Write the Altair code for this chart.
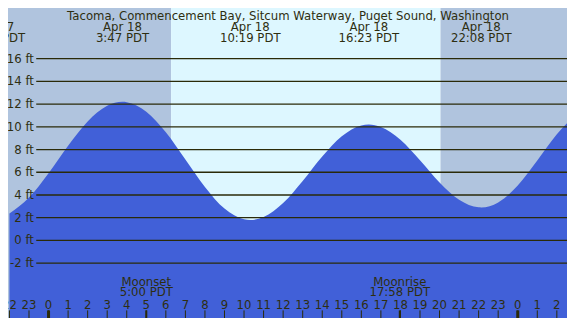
import altair as alt
import pandas as pd

# ---- data ----
tide_hours = [-2, -1, 0, 1, 2, 3, 3.78, 4, 5, 6, 7, 8, 9, 10, 10.32, 11, 12, 13, 14, 15, 16,
              16.38, 17, 18, 19, 20, 21, 22, 22.13, 23, 24, 25, 26, 27]
tide_feet = [2.37, 3.77, 5.92, 8.33, 10.47, 11.85, 12.2, 12.17, 11.33, 9.52, 7.12, 4.71, 2.80,
             1.86, 1.8, 2.06, 3.30, 5.24, 7.39, 9.17, 10.12, 10.2, 9.99, 8.86, 7.06, 5.10, 3.58,
             2.91, 2.9, 3.34, 4.84, 7.04, 9.34, 11.14]

extreme_hours = [-2.75, 3.783, 10.317, 16.383, 22.133]
extreme_dates = ["Apr 17", "Apr 18", "Apr 18", "Apr 18", "Apr 18"]
extreme_times = ["21:15 PDT", "3:47 PDT", "10:19 PDT", "16:23 PDT", "22:08 PDT"]

sunrise_hour = 6.27
sunset_hour = 20.05

moon_hours = [5.0, 17.967]
moon_events = ["Moonset", "Moonrise"]
moon_times = ["5:00 PDT", "17:58 PDT"]

ft_levels = [-2, 0, 2, 4, 6, 8, 10, 12, 14, 16]
ft_labels = [f"{v} ft" for v in ft_levels]

hour_ticks = list(range(-2, 28))
hour_labels = ["22", "23"] + [str(h) for h in range(24)] + ["0", "1", "2", "3"]
midnights = [0, 24]

title_text = "Tacoma, Commencement Bay, Sitcum Waterway, Puget Sound, Washington"

# ---- layout / style ----
X_MIN, X_MAX = -2.074, 26.52
Y_MIN, Y_MAX = -6.83, 20.46
W, H = 559, 310
FONT = "DejaVu Sans"
FS = 11.7
TXT = "#2e2e10"
LINE = "#2a2a08"
NIGHT = "#B0C4DE"
DAY = "#DDF7FF"
WATER = "#4160D8"


def px_x(h):
    return (h - X_MIN) / (X_MAX - X_MIN) * W


def px_y(f):
    return (Y_MAX - f) / (Y_MAX - Y_MIN) * H


xs = alt.Scale(domain=[X_MIN, X_MAX], nice=False, zero=False)
ys = alt.Scale(domain=[Y_MIN, Y_MAX], nice=False, zero=False)

bg_df = pd.DataFrame({
    "start": [X_MIN, sunrise_hour, sunset_hour],
    "end": [sunrise_hour, sunset_hour, X_MAX],
    "kind": ["night", "day", "night"],
})
tide_df = pd.DataFrame({"hour": tide_hours, "ft": tide_feet})
ext_df = pd.DataFrame({"hour": extreme_hours, "date": extreme_dates, "time": extreme_times})
moon_df = pd.DataFrame({"hour": moon_hours, "event": moon_events, "time": moon_times})
ft_df = pd.DataFrame({"ft": ft_levels, "label": ft_labels})
hr_df = pd.DataFrame({"hour": hour_ticks, "label": hour_labels})
mid_df = pd.DataFrame({"hour": midnights})
title_df = pd.DataFrame({"t": [title_text]})

X = lambda f: alt.X(f, scale=xs, axis=None)
Y = lambda f: alt.Y(f, scale=ys, axis=None, stack=None)

bg = alt.Chart(bg_df).mark_rect().encode(
    x=X("start:Q"),
    x2="end:Q",
    y=alt.value(0),
    y2=alt.value(H),
    color=alt.Color("kind:N", scale=alt.Scale(domain=["night", "day"], range=[NIGHT, DAY]), legend=None),
)

area = alt.Chart(tide_df).mark_area(interpolate="monotone", color=WATER).encode(
    x=X("hour:Q"),
    y=Y("ft:Q"),
    y2=alt.value(H),
)

grid = alt.Chart(ft_df).mark_rule(color=LINE, strokeWidth=1.3).encode(
    y=Y("ft:Q"),
    x=alt.value(px_x(-0.63)),
    x2=alt.value(W),
)

ft_text = alt.Chart(ft_df).mark_text(align="right", baseline="middle", font=FONT,
                                      fontSize=FS, color=TXT).encode(
    y=Y("ft:Q"),
    x=alt.value(px_x(-0.75)),
    text="label:N",
)


def tick_layer(df, width):
    return alt.Chart(df).mark_rule(color=LINE, strokeWidth=width).encode(
        x=X("hour:Q"),
        y=alt.value(px_y(-6.16)),
        y2=alt.value(H),
    )


ticks = tick_layer(hr_df, 1)
mid_ticks = tick_layer(mid_df, 3)
moon_ticks = tick_layer(moon_df, 2)


def text_layer(df, field, ypos):
    return alt.Chart(df).mark_text(align="center", baseline="middle", font=FONT,
                                   fontSize=FS, color=TXT).encode(
        x=X("hour:Q"),
        y=alt.value(px_y(ypos)),
        text=f"{field}:N",
    )


hr_text = text_layer(hr_df, "label", -5.66)
ext_date = text_layer(ext_df, "date", 18.79)
ext_time = text_layer(ext_df, "time", 17.81)
moon_event = text_layer(moon_df, "event", -3.63)
moon_time = text_layer(moon_df, "time", -4.57)

title = alt.Chart(title_df).mark_text(
    align="center", baseline="middle", font=FONT, fontSize=FS, color=TXT).encode(
    x=alt.value(px_x(12.25)),
    y=alt.value(px_y(19.79)),
    text="t:N",
)

chart = alt.layer(
    bg, area, grid, ticks, mid_ticks, moon_ticks, ft_text, hr_text,
    ext_date, ext_time, moon_event, moon_time, title,
).properties(
    width=W, height=H,
    autosize=alt.AutoSizeParams(type="none"),
    padding=0,
    background="white",
).configure_view(stroke=None)

chart.save("out.html", embed_options={"renderer": "svg", "actions": False})
